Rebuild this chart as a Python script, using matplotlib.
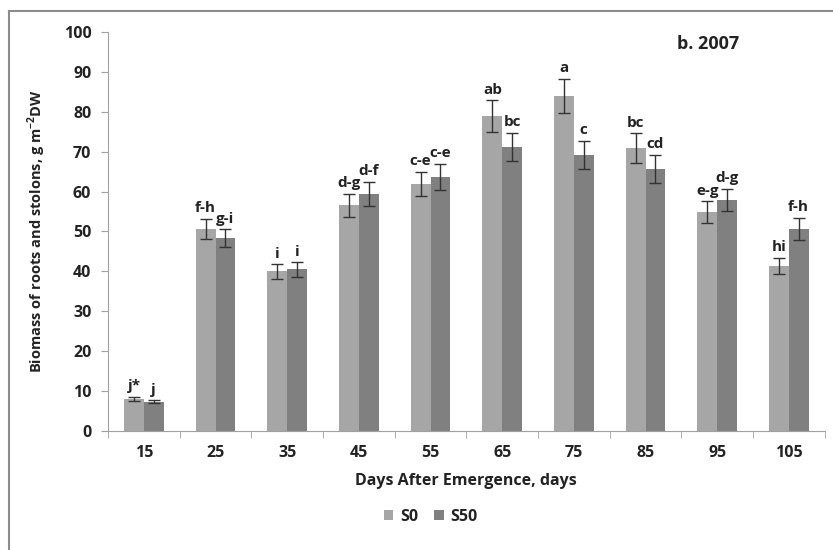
import numpy as np
import matplotlib.pyplot as plt
from matplotlib.lines import Line2D

days = ["15", "25", "35", "45", "55", "65", "75", "85", "95", "105"]
s0 = [8.0, 50.7, 40.0, 56.6, 62.0, 78.9, 84.0, 70.9, 54.9, 41.4]
s50 = [7.3, 48.3, 40.5, 59.5, 63.7, 71.2, 69.2, 65.7, 57.9, 50.7]
s0_err = [0.5, 2.5, 1.8, 2.9, 3.0, 4.0, 4.2, 3.7, 2.7, 2.0]
s50_err = [0.4, 2.3, 1.8, 3.0, 3.3, 3.6, 3.6, 3.5, 2.8, 2.8]
s0_letters = ["j*", "f-h", "i", "d-g", "c-e", "ab", "a", "bc", "e-g", "hi"]
s50_letters = ["j", "g-i", "i", "d-f", "c-e", "bc", "c", "cd", "d-g", "f-h"]

plt.rcParams['font.family'] = ['Open Sans', 'DejaVu Sans']
plt.rcParams['font.weight'] = 'bold'
plt.rcParams['mathtext.fontset'] = 'custom'
plt.rcParams['mathtext.rm'] = 'Open Sans:bold'
plt.rcParams['mathtext.bf'] = 'Open Sans:bold'

txt = "#222222"
fs = 11.5

fig = plt.figure(figsize=(8.33, 5.5), dpi=100)
ax = fig.add_axes([0.1297, 0.2164, 0.8603, 0.7254])

x = np.arange(len(days))
w = 0.275
ax.bar(x - w / 2, s0, w, yerr=s0_err, color="#a6a6a6", label="S0",
       error_kw=dict(ecolor="#333333", elinewidth=1, capsize=4, capthick=1))
ax.bar(x + w / 2, s50, w, yerr=s50_err, color="#808080", label="S50",
       error_kw=dict(ecolor="#333333", elinewidth=1, capsize=4, capthick=1))

for i in range(len(days)):
    ax.text(x[i] - w / 2, s0[i] + s0_err[i] + 0.9, s0_letters[i], ha="center",
            va="bottom", fontsize=11, fontweight="bold", color=txt)
    ax.text(x[i] + w / 2, s50[i] + s50_err[i] + 0.9, s50_letters[i], ha="center",
            va="bottom", fontsize=11, fontweight="bold", color=txt)

ax.set_xlim(-0.5, len(days) - 0.5)
ax.set_ylim(0, 100)
ax.set_yticks(range(0, 101, 10))
ax.set_xticks(x)
ax.set_xticklabels(days)
ax.set_xticks(np.arange(-0.5, len(days), 1), minor=True)
ax.tick_params(axis="x", which="major", length=0, pad=10, labelsize=fs, labelcolor=txt)
ax.tick_params(axis="x", which="minor", length=5, color="#a0a0a0")
ax.tick_params(axis="y", length=5, color="#a0a0a0", pad=7, labelsize=fs, labelcolor=txt)

for s in ["top", "right"]:
    ax.spines[s].set_visible(False)
for s in ["left", "bottom"]:
    ax.spines[s].set_color("#a0a0a0")

ax.set_xlabel("Days After Emergence, days", fontsize=fs, fontweight="bold",
              color=txt, labelpad=9)
ax.set_ylabel("Biomass of roots and stolons, g m$^{-2}$DW", fontsize=10.5,
              fontweight="bold", color=txt, labelpad=11)

ax.text(0.881, 0.97, "b. 2007", transform=ax.transAxes, ha="right", va="center",
        fontsize=13, fontweight="bold", color=txt)

ax.legend(loc="center", bbox_to_anchor=(0.45, -0.2155), ncol=2, frameon=False,
          handlelength=0.6, handleheight=0.6, handletextpad=0.4, columnspacing=1.0,
          fontsize=fs, labelcolor=txt)

# chart frame (left and top edges visible)
fig.add_artist(Line2D([0.0108, 0.0108], [0, 0.98], transform=fig.transFigure,
                      color="#8c8c8c", lw=1.5))
fig.add_artist(Line2D([0.0108, 1.0], [0.98, 0.98], transform=fig.transFigure,
                      color="#8c8c8c", lw=1.5))

fig.savefig("out.png", dpi=100)
